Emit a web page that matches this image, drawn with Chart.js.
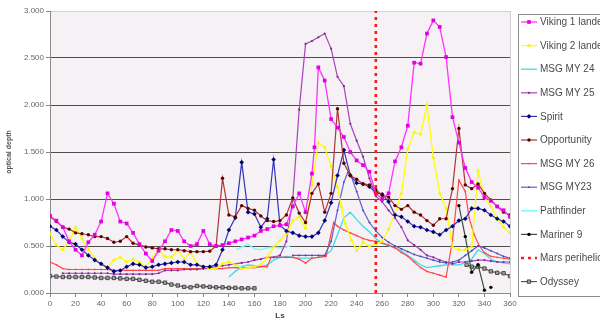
<!DOCTYPE html>
<html><head><meta charset="utf-8">
<script src="https://cdn.jsdelivr.net/npm/chart.js@4.4.1/dist/chart.umd.min.js"></script>
<style>html,body{margin:0;padding:0;overflow:hidden;background:#fff}#c{display:block}</style>
</head><body><canvas id="c" width="600" height="322"></canvas>
<script>
// ---- data (Ls in degrees, optical depth) ----
const seriesNames = ["Viking 1 lander","Viking 2 lander","MSG MY 24","MSG MY 25","Spirit","Opportunity","MSG MY 26","MSG MY23","Pathfinder","Mariner 9","Mars perihelion","Odyssey"];
const xTicks = [0,20,40,60,80,100,120,140,160,180,200,220,240,260,280,300,320,340,360];
const yTicks = [0,0.5,1,1.5,2,2.5,3];

const viking1Ls = [0,5,10,15,20,25,30,35,40,45,50,55,60,65,70,75,80,85,90,95,100,105,110,115,120,125,130,135,140,145,150,155,160,165,170,175,180,185,190,195,200,205,207,210,215,220,225,230,235,240,245,250,255,260,265,270,275,280,285,290,295,300,305,310,315,320,325,330,335,340,345,350,355,360];
const viking1Tau = [0.82,0.77,0.70,0.55,0.46,0.40,0.54,0.62,0.76,1.06,0.95,0.76,0.74,0.64,0.52,0.42,0.34,0.45,0.55,0.67,0.66,0.55,0.50,0.52,0.66,0.52,0.50,0.51,0.53,0.55,0.57,0.59,0.61,0.66,0.68,0.71,0.72,0.73,0.92,1.06,0.86,1.27,1.55,2.40,2.26,1.85,1.76,1.66,1.50,1.41,1.36,1.29,1.06,1.00,1.06,1.40,1.55,1.78,2.45,2.44,2.76,2.90,2.83,2.51,1.87,1.60,1.33,1.18,1.12,1.02,0.98,0.92,0.88,0.81];

const viking2Ls = [0,5,10,15,20,25,30,35,40,45,50,55,60,65,70,75,80,85,90,95,100,105,110,115,120,125,130,135,140,145,150,155,160,165,170,175,180,185,190,195,200,205,210,215,220,225,228,231,236,240,245,250,255,260,265,270,275,280,285,290,295,300,305,310,315,320,325,330,335,340,345,350,355,360];
const viking2Tau = [0.63,0.51,0.46,0.55,0.70,0.58,0.46,0.37,0.30,0.27,0.35,0.38,0.33,0.36,0.33,0.28,0.37,0.46,0.39,0.38,0.46,0.36,0.43,0.31,0.28,0.26,0.26,0.31,0.33,0.30,0.26,0.27,0.28,0.30,0.38,0.49,0.56,0.63,0.77,0.81,0.69,1.15,1.60,1.55,1.35,1.13,0.92,0.74,0.56,0.45,0.54,0.50,0.52,0.55,0.68,0.85,1.06,1.53,1.71,1.69,2.00,1.44,1.06,0.90,0.49,0.46,0.46,0.49,1.30,1.02,0.92,0.80,0.70,0.64];

const my24Ls = [140,145,150,155,160,165,170,175,180,185,190,195,200,205,210,215,220,225,230,235,240,245,250,255,260,265,270,275,280,285,290,295,300,305,310,315,320,325,330,335,340,345,350,355,360];
const my24Tau = [0.17,0.23,0.28,0.30,0.29,0.28,0.30,0.35,0.38,0.39,0.38,0.37,0.37,0.37,0.38,0.40,0.45,0.62,0.80,0.86,0.78,0.71,0.65,0.58,0.53,0.50,0.48,0.45,0.40,0.35,0.30,0.27,0.28,0.29,0.30,0.30,0.30,0.32,0.36,0.46,0.42,0.36,0.33,0.32,0.31];

const my25Ls = [10,15,20,25,30,35,40,45,50,55,60,65,70,75,80,85,90,95,100,105,110,115,120,125,130,135,140,145,150,155,160,165,170,175,180,185,190,195,200,205,210,215,220,225,230,235,240,245,250,255,260,265,270,275,280,285,290,295,300,305,310,315,320,325,330,335,340,345,350,355,360];
const my25Tau = [0.21,0.21,0.21,0.21,0.21,0.21,0.21,0.21,0.20,0.20,0.20,0.20,0.20,0.20,0.20,0.21,0.24,0.24,0.24,0.25,0.25,0.25,0.26,0.27,0.28,0.29,0.30,0.31,0.32,0.33,0.35,0.36,0.38,0.38,0.40,0.55,1.00,1.95,2.65,2.68,2.72,2.76,2.60,2.30,2.20,1.80,1.62,1.45,1.22,1.03,0.97,0.88,0.80,0.70,0.56,0.51,0.46,0.40,0.38,0.35,0.33,0.31,0.33,0.33,0.34,0.35,0.35,0.34,0.33,0.33,0.33];

const spiritLs = [0,5,10,15,20,25,30,35,40,45,50,55,60,65,70,75,80,85,90,95,100,105,110,115,120,125,130,135,140,145,150,155,160,165,170,175,180,185,190,195,200,205,210,215,220,225,230,235,240,245,250,255,260,265,270,275,280,285,290,295,300,305,310,315,320,325,330,335,340,345,350,355,360];
const spiritTau = [0.71,0.67,0.60,0.54,0.52,0.46,0.40,0.35,0.31,0.27,0.23,0.24,0.28,0.31,0.30,0.27,0.28,0.30,0.31,0.32,0.33,0.33,0.30,0.30,0.28,0.28,0.30,0.46,0.67,0.80,1.39,0.86,0.84,0.70,0.79,1.42,0.72,0.66,0.64,0.61,0.60,0.60,0.64,0.77,0.96,1.25,1.52,1.25,1.17,1.16,1.13,1.07,1.05,0.97,0.83,0.81,0.76,0.71,0.70,0.67,0.65,0.62,0.67,0.71,0.77,0.79,0.90,0.90,0.88,0.83,0.79,0.76,0.71];

const oppLs = spiritLs;
const oppTau = [0.81,0.76,0.70,0.68,0.64,0.63,0.62,0.60,0.60,0.58,0.54,0.55,0.60,0.53,0.51,0.49,0.48,0.47,0.47,0.46,0.46,0.45,0.44,0.44,0.44,0.445,0.50,1.22,0.83,0.81,0.93,0.90,0.88,0.82,0.77,0.76,0.77,0.83,1.01,0.85,0.75,1.06,1.16,0.86,1.06,1.96,1.38,1.25,1.21,1.16,1.15,1.10,1.04,1.02,0.93,0.89,0.93,0.86,0.83,0.77,0.72,0.79,0.79,1.11,1.75,1.15,1.11,1.16,1.06,0.99,0.92,0.86,0.83];

const my26Ls = [0,5,10,15,20,25,30,35,40,45,50,55,60,65,70,75,80,85,90,95,100,105,110,115,120,125,130,135,140,145,150,155,160,165,170,173,180,185,190,195,200,205,210,216,222,225,230,235,240,245,250,255,260,265,270,275,280,285,290,295,300,305,310,315,320,325,328,332,336,340,345,350,355,360];
const my26Tau = [0.33,0.30,0.26,0.25,0.25,0.25,0.25,0.25,0.25,0.25,0.24,0.24,0.24,0.24,0.24,0.24,0.24,0.24,0.26,0.26,0.26,0.26,0.26,0.26,0.26,0.26,0.26,0.26,0.27,0.27,0.27,0.27,0.27,0.28,0.28,0.38,0.38,0.38,0.38,0.36,0.32,0.37,0.38,0.39,0.75,0.71,0.67,0.64,0.61,0.58,0.56,0.55,0.53,0.51,0.48,0.43,0.39,0.33,0.27,0.23,0.21,0.19,0.17,0.56,1.20,1.08,0.80,0.62,0.50,0.43,0.39,0.38,0.37,0.36];

const my23Ls = [190,195,200,205,210,215,220,225,230,233,235,240,245,250,255,260,265,270,275,280,285,290,295,300,305,310,315,320,325,330,335,340,345,350,355,360];
const my23Tau = [0.40,0.40,0.40,0.40,0.40,0.40,0.55,0.88,1.18,1.28,1.27,1.08,0.88,0.75,0.66,0.59,0.54,0.50,0.47,0.44,0.41,0.39,0.37,0.35,0.33,0.32,0.33,0.35,0.40,0.45,0.50,0.48,0.45,0.42,0.39,0.37];

const pathLs = [146,150,155,160,165,170,175,180,185,188];
const pathTau = [0.46,0.49,0.52,0.47,0.46,0.48,0.49,0.48,0.49,0.50];

const mariner9Ls = [320,325,330,335,340,342,345];
const mariner9Tau = [0.93,0.60,0.22,0.30,0.03,null,0.06];

const periLs = [255,255];
const periTau = [0,3];

const odyLs = [0,5,10,15,20,25,30,35,40,45,50,55,60,65,70,75,80,85,90,95,100,105,110,115,120,125,130,135,140,145,150,155,160,200,326,330,335,340,345,350,355,360];
const odyTau = [0.18,0.175,0.17,0.17,0.17,0.17,0.17,0.165,0.16,0.16,0.16,0.155,0.15,0.15,0.14,0.13,0.12,0.12,0.11,0.09,0.08,0.065,0.06,0.075,0.07,0.065,0.06,0.06,0.055,0.055,0.05,0.05,0.05,null,0.30,0.28,0.28,0.26,0.23,0.215,0.21,0.18];

// ---- build ----
const pts = (xs, ys) => xs.map((x, i) => ({x: x, y: ys[i]}));
const FONT = '"Liberation Sans", Arial, sans-serif';

const styles = [
  {c:'#ff33ff', pb:'#e000e0', ps:'rect', r:2.6, w:1.3},
  {c:'#ffff00', pb:'#f4f400', ps:'triangle', r:2.2, w:1.3},
  {c:'#33ddee', pb:'#33ddee', ps:'circle', r:0, w:1.3},
  {c:'#a844bc', pb:'#7a2a8a', ps:'circle', r:1.1, w:1.2},
  {c:'#3434b8', pb:'#000070', ps:'rectRot', r:2.3, w:1.2},
  {c:'#b03434', pb:'#5a0000', ps:'circle', r:1.7, w:1.2},
  {c:'#ff4a4a', pb:'#ff4a4a', ps:'circle', r:0.9, w:1.2},
  {c:'#6060d0', pb:'#4040b0', ps:'circle', r:0.9, w:1.2},
  {c:'#7ff8ff', pb:'#7ff8ff', ps:'circle', r:0, w:1.6},
  {c:'#3c503c', pb:'#000000', ps:'circle', r:1.7, w:1.2},
  {c:'#ff1a1a', pb:'#ff1a1a', ps:'circle', r:0, w:2.6, dash:[3,4]},
  {c:'#505050', pb:'#a0a0a0', ps:'rect', r:2.4, w:1.1, pbc:'#303030'}
];
const seriesData = [
  pts(viking1Ls, viking1Tau), pts(viking2Ls, viking2Tau), pts(my24Ls, my24Tau), pts(my25Ls, my25Tau),
  pts(spiritLs, spiritTau), pts(oppLs, oppTau), pts(my26Ls, my26Tau), pts(my23Ls, my23Tau),
  pts(pathLs, pathTau), pts(mariner9Ls, mariner9Tau), pts(periLs, periTau), pts(odyLs, odyTau)
];

const datasets = seriesNames.map((name, i) => {
  const s = styles[i];
  return {
    label: name, data: seriesData[i],
    borderColor: s.c, backgroundColor: s.c, borderWidth: s.w, borderDash: s.dash || [],
    pointStyle: s.ps, pointRadius: s.r, pointHoverRadius: s.r,
    pointBackgroundColor: s.pb, pointBorderColor: s.pbc || s.pb, pointBorderWidth: s.pbc ? 0.8 : 0,
    tension: 0, fill: false, spanGaps: false
  };
});
// draw order: lower layers first
const drawOrder = [11,8,2,6,7,3,9,1,4,5,0,10];
drawOrder.forEach((di, k) => { datasets[di].order = drawOrder.length - k; });

const bgPlugin = {
  id: 'plotBg',
  beforeDraw(chart) {
    const a = chart.chartArea, ctx = chart.ctx;
    ctx.save();
    ctx.fillStyle = '#fff'; ctx.fillRect(0, 0, chart.width, chart.height);
    ctx.fillStyle = '#f5f1f4'; ctx.fillRect(a.left, a.top, a.right - a.left, a.bottom - a.top);
    ctx.strokeStyle = '#d2d2d2'; ctx.lineWidth = 1;
    ctx.strokeRect(a.left + 0.5, a.top + 0.5, a.right - a.left, a.bottom - a.top);
    ctx.restore();
  }
};

const legendPlugin = {
  id: 'boxLegend',
  afterDraw(chart) {
    const ctx = chart.ctx;
    ctx.save();
    ctx.fillStyle = '#fff'; ctx.strokeStyle = '#8c8c8c'; ctx.lineWidth = 1;
    ctx.fillRect(518.5, 14.5, 120, 282); ctx.strokeRect(518.5, 14.5, 120, 282);
    chart.data.datasets.forEach((ds, i) => {
      const y = 22 + i * 23.6;
      ctx.save();
      ctx.strokeStyle = ds.borderColor; ctx.lineWidth = ds.borderWidth; ctx.setLineDash(ds.borderDash || []);
      ctx.beginPath(); ctx.moveTo(521, y); ctx.lineTo(537, y); ctx.stroke();
      ctx.restore();
      if (ds.pointRadius > 0 && Chart.helpers && Chart.helpers.drawPoint) {
        ctx.save();
        ctx.fillStyle = ds.pointBackgroundColor; ctx.strokeStyle = ds.pointBorderColor; ctx.lineWidth = ds.pointBorderWidth || 0.01;
        Chart.helpers.drawPoint(ctx, {pointStyle: ds.pointStyle, rotation: 0, radius: ds.pointRadius, borderWidth: ds.pointBorderWidth || 0}, 529, y);
        ctx.restore();
      }
      ctx.fillStyle = '#4a4a4a'; ctx.font = '10px ' + FONT; ctx.textBaseline = 'middle'; ctx.textAlign = 'left';
      ctx.fillText(ds.label, 540, y + 0.5);
    });
    ctx.restore();
  }
};

new Chart(document.getElementById('c'), {
  type: 'line',
  data: { datasets: datasets },
  plugins: [bgPlugin, legendPlugin],
  options: {
    responsive: false, animation: false, devicePixelRatio: 1,
    layout: { padding: { top: 11, right: 90, bottom: 0, left: 0 } },
    plugins: { legend: { display: false }, tooltip: { enabled: false } },
    scales: {
      x: {
        type: 'linear', min: 0, max: 360,
        afterBuildTicks: s => { s.ticks = xTicks.map(v => ({value: v})); },
        afterFit: s => { s.height = 29; },
        grid: { drawOnChartArea: false, drawTicks: true, tickLength: 4, color: '#888', tickColor: '#888' },
        border: { display: true, color: '#8a8a8a', width: 1 },
        ticks: { font: { family: FONT, size: 8 }, color: '#666', padding: 2, maxRotation: 0, autoSkip: false },
        title: { display: true, text: 'Ls', font: { family: FONT, size: 8, weight: 'bold' }, color: '#444', padding: { top: 0, bottom: 1 } }
      },
      y: {
        min: 0, max: 3,
        afterBuildTicks: s => { s.ticks = yTicks.map(v => ({value: v})); },
        afterFit: s => { s.width = 50; },
        grid: { drawTicks: true, tickLength: 4, tickColor: '#888',
          color: ctx => (ctx.tick && ctx.tick.value === 3) ? '#d2d2d2' : (ctx.tick && ctx.tick.value === 0 ? '#8a8a8a' : '#4e4e4e'),
          lineWidth: 1 },
        border: { display: true, color: '#8a8a8a', width: 1 },
        ticks: { font: { family: FONT, size: 8 }, color: '#666', padding: 2, callback: v => Number(v).toFixed(3) },
        title: { display: true, text: 'optical depth', font: { family: FONT, size: 7, weight: 'bold' }, color: '#555', padding: { top: 5, bottom: 0 } }
      }
    }
  }
});
</script></body></html>
